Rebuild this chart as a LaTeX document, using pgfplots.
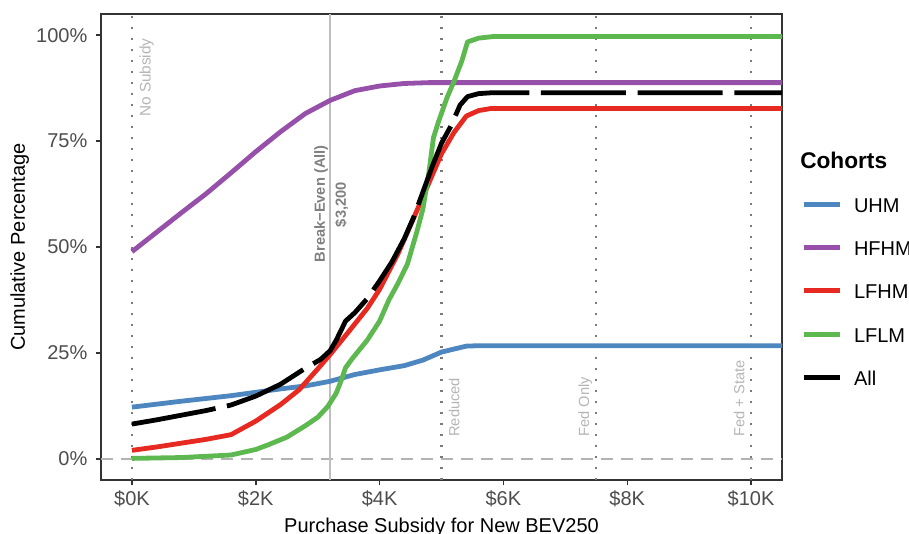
\documentclass[border=0pt]{standalone}
\usepackage{pgfplots}
\pgfplotsset{compat=1.18}
\usepackage{fontspec}
\setmainfont{Liberation Sans}
\definecolor{cUHM}{HTML}{4E86BF}
\definecolor{cHFHM}{HTML}{9650AA}
\definecolor{cLFHM}{HTML}{E62A22}
\definecolor{cLFLM}{HTML}{5DB850}
\definecolor{frame}{HTML}{333333}
\definecolor{ticktext}{HTML}{4D4D4D}
\definecolor{dotline}{HTML}{7A7A7A}
\definecolor{lightann}{HTML}{B5B5B5}
\definecolor{darkann}{HTML}{808080}
\definecolor{solidv}{HTML}{BEBEBE}
\definecolor{zeroline}{HTML}{B3B3B3}
\begin{document}
\begin{tikzpicture}
\begin{axis}[
  name=ax, at={(0,0)}, anchor=south west,
  scale only axis, width=510.75pt, height=349.5pt,
  xmin=-500, xmax=10500, ymin=-5, ymax=105,
  scaled x ticks=false, scaled y ticks=false,
  clip=false,
  axis line style={draw=frame, line width=1.1pt},
  tick align=outside, xtick pos=bottom, ytick pos=left,
  major tick length=4pt,
  major tick style={draw=frame, line width=1.1pt},
  xtick={0,2000,4000,6000,8000,10000},
  xticklabels={\$0K,\$2K,\$4K,\$6K,\$8K,\$10K},
  ytick={0,25,50,75,100},
  yticklabels={0\%,25\%,50\%,75\%,100\%},
  xticklabel style={font=\fontsize{15}{18}\selectfont, text=ticktext, inner sep=0pt, yshift=-4pt},
  yticklabel style={font=\fontsize{15}{18}\selectfont, text=ticktext, inner sep=0pt, xshift=-6pt},
  xlabel={Purchase Subsidy for New BEV250},
  ylabel={Cumulative Percentage},
  label style={font=\fontsize{15}{18}\selectfont, text=black},
  xlabel style={at={(axis description cs:0.5,-0.1116)}, anchor=base, inner sep=0pt},
  ylabel style={at={(axis description cs:-0.1116,0.5)}, anchor=base, inner sep=0pt},
  legend style={draw=none, fill=none, at={(axis description cs:1.0278,0.6052)}, anchor=north west,
    font=\fontsize{15}{18}\selectfont, inner sep=0pt, row sep=22pt, column sep=9pt,
    nodes={inner sep=0pt, text height=10.5pt, text depth=0pt}},
  legend cell align=left,
  legend image code/.code={\draw[#1, solid] (0pt,0.8pt) -- (27pt,0.8pt);},
  every axis plot/.append style={line join=round},
]
% reference lines
\addplot[forget plot, zeroline, line width=1.5pt, dash pattern=on 9pt off 6pt] coordinates {(-500,0) (10500,0)};
\addplot[forget plot, dotline, line width=1.6pt, dash pattern=on 1.6pt off 6.65pt] coordinates {(0,-5) (0,105)};
\addplot[forget plot, dotline, line width=1.6pt, dash pattern=on 1.6pt off 6.65pt] coordinates {(5000,-5) (5000,105)};
\addplot[forget plot, dotline, line width=1.6pt, dash pattern=on 1.6pt off 6.65pt] coordinates {(7500,-5) (7500,105)};
\addplot[forget plot, dotline, line width=1.6pt, dash pattern=on 1.6pt off 6.65pt] coordinates {(10000,-5) (10000,105)};
\addplot[forget plot, solidv, line width=1.9pt] coordinates {(3200,-5) (3200,105)};
% series
\addplot[cUHM, line width=3.6pt] coordinates {
(0,12.2) (800,13.6) (1600,14.9) (2400,16.5) (2800,17.2) (3200,18.3) (3600,19.9) (4000,21.0)
(4400,22.0) (4700,23.3) (5000,25.2) (5400,26.6) (5600,26.7) (10500,26.7)};
\addlegendentry{UHM}
\addplot[cHFHM, line width=3.6pt] coordinates {
(0,48.9) (400,53.5) (800,58.1) (1200,62.6) (1600,67.5) (2000,72.5) (2400,77.2) (2800,81.5)
(3200,84.6) (3600,86.9) (4000,88.0) (4400,88.6) (4800,88.8) (10500,88.8)};
\addlegendentry{HFHM}
\addplot[cLFHM, line width=3.6pt] coordinates {
(0,2.0) (400,2.8) (800,3.7) (1200,4.6) (1600,5.7) (2000,8.9) (2400,12.8) (2700,16.3)
(3000,21.2) (3200,24.6) (3500,30.0) (3800,35.5) (4000,40.0) (4300,48.5) (4660,60.5)
(5000,72.0) (5200,77.0) (5400,80.9) (5600,82.2) (5800,82.7) (10500,82.7)};
\addlegendentry{LFHM}
\addplot[cLFLM, line width=3.6pt] coordinates {
(0,0.1) (800,0.3) (1600,0.9) (2000,2.2) (2200,3.3) (2500,5.1) (2800,7.8) (3000,9.8)
(3160,12.3) (3300,15.5) (3380,18.5) (3450,21.5) (3550,23.5) (3800,28.0) (4000,32.5)
(4150,37.5) (4300,41.5) (4450,46.0) (4600,53.5) (4700,59.0) (4800,68.0) (4870,75.8)
(4950,79.5) (5090,85.3) (5200,89.0) (5330,94.0) (5420,98.4) (5600,99.3) (5850,99.7) (10500,99.7)};
\addlegendentry{LFLM}
\addplot[black, line width=3.6pt, dash pattern=on 63.75pt off 8.75pt] coordinates {
(0,8.2) (400,9.2) (800,10.3) (1200,11.4) (1600,12.7) (2000,14.8) (2400,17.6) (2750,20.9)
(3050,23.5) (3200,25.5) (3300,28.0) (3450,32.5) (3600,34.5) (3800,37.8) (4000,42.0)
(4200,46.5) (4400,52.0) (4550,57.0) (4700,63.0) (4850,69.0) (5000,74.5) (5150,78.5)
(5300,83.5) (5420,85.5) (5600,86.2) (5800,86.4) (10500,86.4)};
\addlegendentry{All}
% annotations
\node[rotate=90, anchor=north east, inner sep=0pt, font=\fontsize{11.5}{13}\selectfont, text=lightann] at (axis cs:118,99.3) {No Subsidy};
\node[rotate=90, anchor=north west, inner sep=0pt, font=\fontsize{11}{13}\selectfont, text=lightann] at (axis cs:5113,5.18) {Reduced};
\node[rotate=90, anchor=north west, inner sep=0pt, font=\fontsize{11}{13}\selectfont, text=lightann] at (axis cs:7210,5.18) {Fed Only};
\node[rotate=90, anchor=north west, inner sep=0pt, font=\fontsize{11}{13}\selectfont, text=lightann] at (axis cs:9715,5.18) {Fed + State};
\node[rotate=90, anchor=north, inner sep=0pt, font=\bfseries\fontsize{11}{13}\selectfont, text=darkann] at (axis cs:2940,60.2) {Break−Even (All)};
\node[rotate=90, anchor=north, inner sep=0pt, font=\bfseries\fontsize{11}{13}\selectfont, text=darkann] at (axis cs:3274,60.0) {\$3,200};
\node[anchor=base west, inner sep=0pt, font=\bfseries\fontsize{17}{20}\selectfont] at (axis description cs:1.0264,0.6695) {Cohorts};
\end{axis}
\pgfresetboundingbox
\useasboundingbox ([shift={(-75.75pt,-40.5pt)}]ax.south west) rectangle ([shift={(606pt,360pt)}]ax.south west);
\end{tikzpicture}
\end{document}
